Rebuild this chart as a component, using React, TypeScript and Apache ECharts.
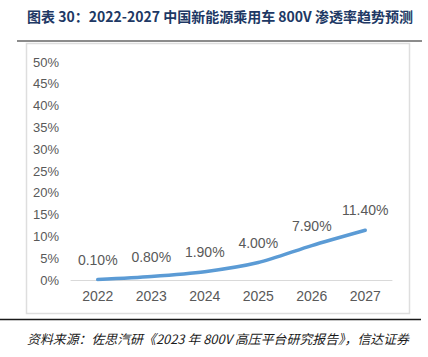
import React, { useEffect, useRef } from "react";
import * as echarts from "echarts";

const categories = ["2022", "2023", "2024", "2025", "2026", "2027"];
const penetration = [0.1, 0.8, 1.9, 4.0, 7.9, 11.4];
const titleText = "图表 30：2022-2027 中国新能源乘用车 800V 渗透率趋势预测";
const sourceText = "资料来源：佐思汽研《2023 年 800V 高压平台研究报告》，信达证券";

export default function App() {
  const ref = useRef<HTMLDivElement>(null);
  useEffect(() => {
    if (!ref.current) return;
    const chart = echarts.init(ref.current, undefined, { renderer: "svg" });
    chart.setOption({
      animation: false,
      backgroundColor: "#ffffff",
      textStyle: { fontFamily: "'Liberation Sans', Arial, sans-serif" },
      grid: { left: 71, right: 36, top: 62, bottom: 77, containLabel: false },
      xAxis: {
        type: "category",
        data: categories,
        boundaryGap: true,
        axisLine: { show: true, lineStyle: { color: "#d9d9d9", width: 1 } },
        axisTick: { show: false },
        axisLabel: { color: "#595959", fontSize: 14, margin: 9 },
      },
      yAxis: {
        type: "value",
        min: 0,
        max: 50,
        interval: 5,
        axisLine: { show: false },
        axisTick: { show: false },
        splitLine: { show: false },
        axisLabel: { color: "#595959", fontSize: 13, margin: 12, formatter: "{value}%" },
      },
      series: [
        {
          type: "line",
          data: penetration,
          smooth: 0.25,
          symbol: "circle",
          symbolSize: 2,
          showSymbol: true,
          itemStyle: { color: "rgba(0,0,0,0)" },
          lineStyle: { color: "#5b9bd5", width: 3.5, cap: "round" },
          label: {
            show: true,
            position: "top",
            distance: 12,
            color: "#595959",
            fontSize: 14,
            formatter: (p: any) => Number(p.value).toFixed(2) + "%",
          },
        },
      ],
      graphic: [
        {
          type: "text",
          left: 27,
          top: 9,
          style: {
            text: titleText,
            fill: "#203864",
            font: "bold 14px 'Noto Sans CJK SC', sans-serif",
          },
        },
        {
          type: "line",
          shape: { x1: 17, y1: 41, x2: 422, y2: 41 },
          style: { stroke: "#8c8c8c", lineWidth: 2 },
        },
        {
          type: "rect",
          shape: { x: 26.5, y: 43.5, width: 383, height: 270 },
          style: { fill: "none", stroke: "#dedede", lineWidth: 1.5 },
        },
        {
          type: "line",
          shape: { x1: 0, y1: 319.5, x2: 421, y2: 319.5 },
          style: { stroke: "#1a1a1a", lineWidth: 1.5 },
        },
        {
          type: "text",
          left: 27,
          top: 332,
          style: {
            text: sourceText,
            fill: "#1a1a1a",
            font: "italic 12.9px 'Noto Sans CJK SC', sans-serif",
          },
        },
      ],
    });
    return () => chart.dispose();
  }, []);
  return (
    <div
      ref={ref}
      style={{ position: "fixed", left: 0, top: 0, width: 428, height: 357 }}
    />
  );
}
